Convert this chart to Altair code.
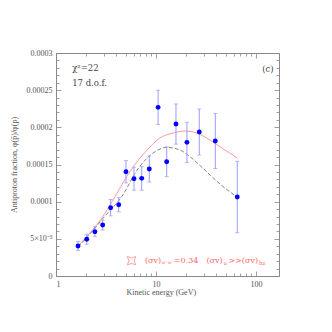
import altair as alt
import pandas as pd

# ---- data ----
energy = [1.66, 2.03, 2.45, 2.93, 3.52, 4.24, 5.01, 6.03, 7.2, 8.57,
          10.5, 12.8, 15.85, 20.4, 27.1, 39.2, 65.0]
fraction = [4.04e-5, 4.94e-5, 5.96e-5, 6.86e-5, 9.19e-5, 9.59e-5, 1.403e-4,
            1.309e-4, 1.314e-4, 1.439e-4, 2.269e-4, 1.537e-4, 2.044e-4,
            1.798e-4, 1.937e-4, 1.816e-4, 1.063e-4]
error = [0.6e-5, 0.67e-5, 0.67e-5, 0.67e-5, 1.1e-5, 0.95e-5, 1.5e-5, 1.55e-5,
         1.6e-5, 1.75e-5, 2.3e-5, 2.0e-5, 2.7e-5, 2.7e-5, 3.1e-5, 3.7e-5, 4.8e-5]

red_e = [1.66, 2.19, 2.86, 3.89, 5.09, 6.92, 8.71, 10.96, 14.8, 19.5, 25.7, 34.7, 49.0, 65.3]
red_v = [4.04e-5, 5.81e-5, 7.76e-5, 1.067e-4, 1.336e-4, 1.587e-4, 1.735e-4,
         1.856e-4, 1.923e-4, 1.95e-4, 1.923e-4, 1.829e-4, 1.695e-4, 1.587e-4]

gray_e = [1.66, 2.19, 2.97, 4.54, 6.66, 9.77, 12.8, 17.4, 21.9, 32.1, 43.7, 64.6]
gray_v = [3.9e-5, 5.65e-5, 7.8e-5, 1.067e-4, 1.449e-4, 1.672e-4, 1.731e-4,
          1.695e-4, 1.605e-4, 1.403e-4, 1.237e-4, 1.063e-4]

x_major = [1, 10, 100]
x_minor = [2, 3, 4, 5, 6, 7, 8, 9, 20, 30, 40, 50, 60, 70, 80, 90]
y_major = [0, 0.00005, 0.0001, 0.00015, 0.0002, 0.00025, 0.0003]
y_minor = [round(i * 1e-5, 10) for i in range(1, 30) if i % 5 != 0]

ann_text = ["χ²=22", "17 d.o.f.", "(c)"]
ann_e = [1.45, 1.45, 150.0]
ann_v = [2.794e-4, 2.592e-4, 2.79e-4]
ann_align = ["left", "left", "right"]

leg_text = ["(σv)", "w⁺w⁻", "=0.34", "(σv)", "u", ">>(σv)", "bz"]
leg_e = [7.76, 11.35, 15.1, 32.0, 47.3, 53.0, 107.0]
leg_v = [2.06e-5, 1.75e-5, 2.06e-5, 2.06e-5, 1.75e-5, 2.06e-5, 1.75e-5]
leg_size = [8, 4.5, 8, 8, 5.5, 8, 5.5]

FONT = "Liberation Serif"
AFONT = "DejaVu Serif"
W = 223
H = 223
XD = [1, 170]
YD = [0, 0.0003]

pts = pd.DataFrame({"E": energy, "F": fraction,
                    "lo": [f - e for f, e in zip(fraction, error)],
                    "hi": [f + e for f, e in zip(fraction, error)]})
red = pd.DataFrame({"E": red_e, "F": red_v})
gray = pd.DataFrame({"E": gray_e, "F": gray_v})
ann = pd.DataFrame({"E": ann_e, "F": ann_v, "t": ann_text, "a": ann_align})
leg = pd.DataFrame({"E": leg_e, "F": leg_v, "t": leg_text, "s": leg_size})
sym = pd.DataFrame({"E": [5.7], "F": [2.06e-5]})

xs = alt.Scale(type="log", domain=XD, nice=False)
ys = alt.Scale(domain=YD, nice=False, zero=False)


def X(field="E", axis=None):
    return alt.X(field, type="quantitative", scale=xs, axis=axis)


def Y(field="F", axis=None):
    return alt.Y(field, type="quantitative", scale=ys, axis=axis)


# labelled axes
lab_x = alt.Axis(values=x_major, ticks=False, domain=False, grid=False, labelFont=FONT,
                 labelFontSize=8, labelColor="#555", labelPadding=4, format="d",
                 title="Kinetic energy   (GeV)", titleFont=FONT, titleFontSize=8,
                 titleFontWeight="normal", titleColor="#555", titleAnchor="start",
                 titleX=70, titleY=12, titleAlign="left")
lab_y = alt.Axis(values=y_major, ticks=False, domain=False, grid=False, labelFont=FONT,
                 labelFontSize=8, labelColor="#555", labelPadding=4,
                 labelExpr="datum.value == 0.00005 ? '5×10⁻⁵' : format(datum.value, '')",
                 title="Antiproton fraction, φ(p̄)/φ(p)", titleFont=FONT, titleFontSize=8,
                 titleFontWeight="normal", titleColor="#555", titlePadding=8)


def tick_axis(values, orient, size):
    return alt.Axis(values=values, orient=orient, offset=-W if orient in ("left", "right") else -H,
                    labels=False, domain=False, grid=False, ticks=True, tickSize=size,
                    tickColor="#888", tickWidth=0.8, title=None)


base = alt.Chart(pts)
axis_layers = [
    base.mark_point(opacity=0).encode(x=X(axis=lab_x), y=Y(axis=lab_y)),
    base.mark_point(opacity=0).encode(x=X(axis=tick_axis(x_major, "top", 5)),
                                      y=Y(axis=tick_axis(y_major, "right", 5))),
    base.mark_point(opacity=0).encode(x=X(axis=tick_axis(x_minor, "top", 3)),
                                      y=Y(axis=tick_axis(y_minor, "right", 3))),
    base.mark_point(opacity=0).encode(x=X(axis=tick_axis(x_major, "bottom", 5)),
                                      y=Y(axis=tick_axis(y_major, "left", 5))),
    base.mark_point(opacity=0).encode(x=X(axis=tick_axis(x_minor, "bottom", 3)),
                                      y=Y(axis=tick_axis(y_minor, "left", 3))),
]

red_line = alt.Chart(red).mark_line(color="#ff8080", strokeWidth=0.8, interpolate="monotone").encode(
    x=X(), y=Y())
gray_line = alt.Chart(gray).mark_line(color="#777", strokeWidth=0.9, strokeDash=[4, 2],
                                      interpolate="monotone").encode(x=X(), y=Y())
bars = base.mark_rule(color="#9a9aff", strokeWidth=1).encode(x=X(), y=Y("lo"), y2="hi")
cap_lo = base.mark_tick(color="#9a9aff", orient="horizontal", size=4, thickness=1).encode(
    x=X(), y=Y("lo"))
cap_hi = base.mark_tick(color="#9a9aff", orient="horizontal", size=4, thickness=1).encode(
    x=X(), y=Y("hi"))
dots = base.mark_circle(color="#0000ff", opacity=1, size=24).encode(x=X(), y=Y())

ann_l = alt.Chart(ann[ann.a == "left"]).mark_text(
    font=AFONT, fontSize=8.5, color="#444", align="left", baseline="middle").encode(
    x=X(), y=Y(), text="t")
ann_r = alt.Chart(ann[ann.a == "right"]).mark_text(
    font=AFONT, fontSize=8.5, color="#444", align="right", baseline="middle").encode(
    x=X(), y=Y(), text="t")
leg_t = alt.Chart(leg).mark_text(font=AFONT, color="#ff6666", align="left",
                                 baseline="middle").encode(
    x=X(), y=Y(), text="t", size=alt.Size("s", type="quantitative", scale=None, legend=None))
star_path = "M-1,-1 Q0,-0.3 1,-1 Q0.3,0 1,1 Q0,0.3 -1,1 Q-0.3,0 -1,-1 Z"
leg_sym = alt.Chart(sym).mark_point(shape=star_path, color="#ff6666", size=70,
                                    strokeWidth=0.9, filled=False).encode(x=X(), y=Y())

chart = alt.layer(*axis_layers, red_line, gray_line, bars, cap_lo, cap_hi, dots,
                  ann_l, ann_r, leg_t, leg_sym).resolve_axis(
    x="independent", y="independent").properties(
    width=W, height=H,
    autosize=alt.AutoSizeParams(type="none"),
    padding={"left": 48, "top": 45, "right": 40, "bottom": 45},
).configure_view(stroke="#888", strokeWidth=1)

chart.save("out.html", embed_options={"renderer": "svg", "actions": False})
